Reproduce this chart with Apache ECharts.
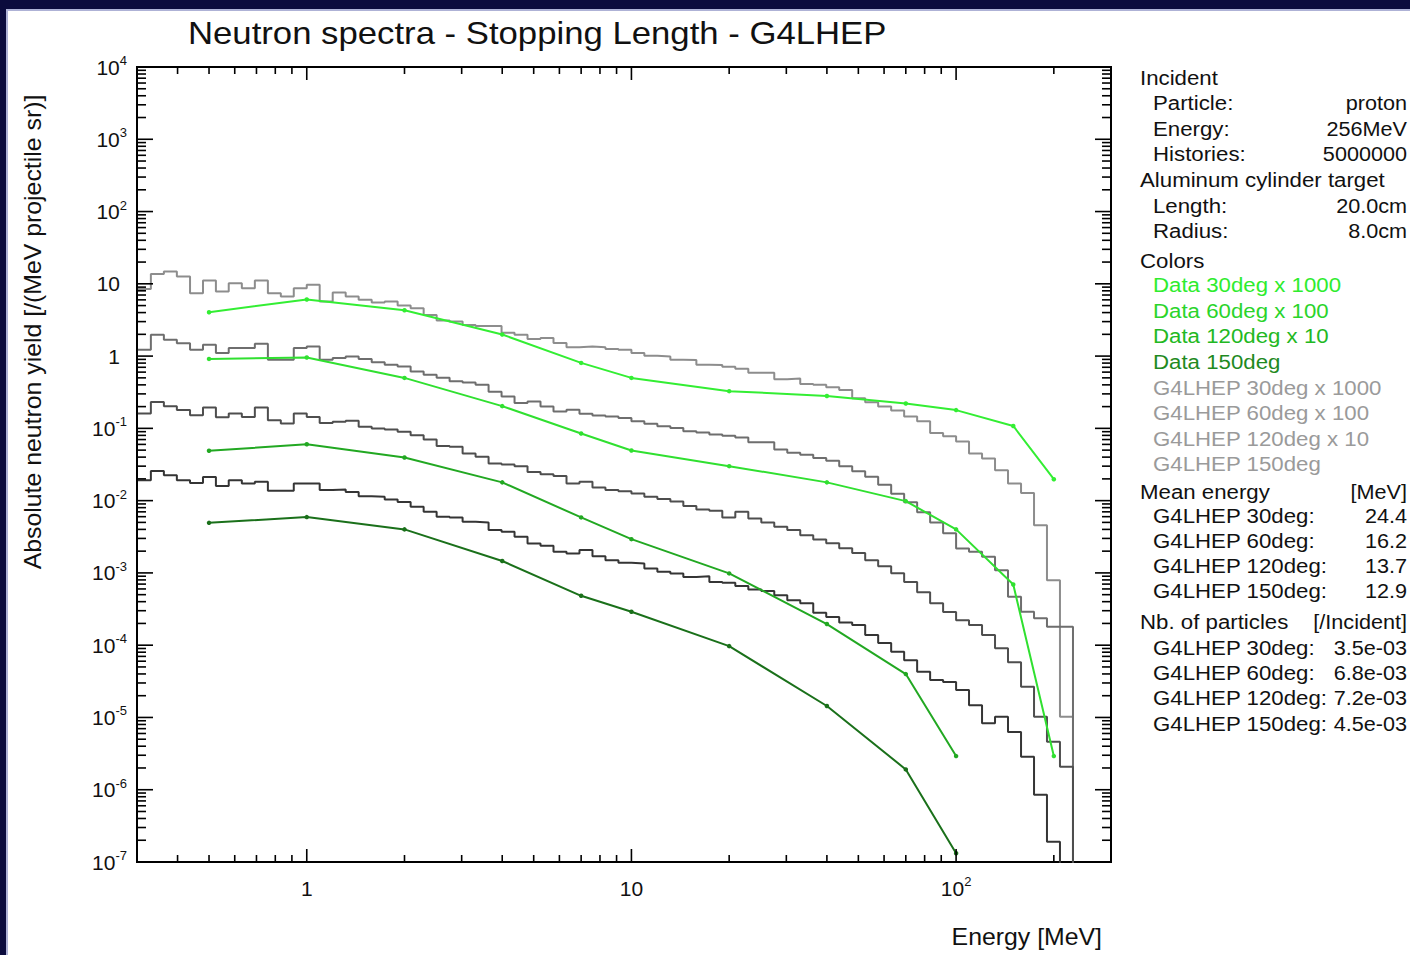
<!DOCTYPE html>
<html>
<head>
<meta charset="utf-8">
<script src="https://cdn.jsdelivr.net/npm/echarts@6/dist/echarts.min.js"></script>
<style>
html,body{margin:0;padding:0;width:1410px;height:955px;overflow:hidden;background:#0b0b3d;}
#panel{position:absolute;left:6px;top:9px;width:1420px;height:960px;background:#fff;border-left:2px solid #aeb2d6;border-top:2px solid #aeb2d6;}
#chart{position:absolute;left:0;top:0;width:1410px;height:955px;}
</style>
</head>
<body>
<div id="panel"></div>
<div id="chart"></div>
<script>
// ---------------- data ----------------
const TITLE = 'Neutron spectra - Stopping Length - G4LHEP';
const X_NAME = 'Energy [MeV]';
const Y_NAME = 'Absolute neutron yield [/(MeV projectile sr)]';

const X_MIN = 0.3, X_MAX = 300;
const Y_MIN = 1e-7, Y_MAX = 1e4;
const X_TICKS = [1, 10, 100];
const Y_TICKS = [1e-7, 1e-6, 1e-5, 1e-4, 1e-3, 1e-2, 1e-1, 1, 10, 1e2, 1e3, 1e4];

// histogram bin edges [MeV] (25 bins per decade)
const ENERGY_EDGES = [0.302, 0.331, 0.363, 0.398, 0.437, 0.479, 0.525, 0.575, 0.631, 0.692, 0.759, 0.832, 0.912,
  1.0, 1.096, 1.202, 1.318, 1.445, 1.585, 1.738, 1.905, 2.089, 2.291, 2.512, 2.754, 3.020, 3.311, 3.631, 3.981,
  4.365, 4.786, 5.248, 5.754, 6.310, 6.918, 7.586, 8.318, 9.120, 10.0, 10.96, 12.02, 13.18, 14.45, 15.85, 17.38,
  19.05, 20.89, 22.91, 25.12, 27.54, 30.20, 33.11, 36.31, 39.81, 43.65, 47.86, 52.48, 57.54, 63.10, 69.18, 75.86,
  83.18, 91.20, 100, 109.6, 120.2, 131.8, 144.5, 158.5, 173.8, 190.5, 208.9, 229.1];

// G4LHEP histograms (bin contents)
const G4_30 = [8.5, 13.7, 14.8, 12.6, 7.4, 11.1, 7.8, 10.2, 8.7, 11.1, 7.4, 6.7, 8.7, 9.7, 5.7, 7.6, 6.7, 6.0, 5.5,
  5.7, 5.0, 4.6, 3.7, 3.1, 3.0, 2.7, 2.6, 2.6, 2.1, 1.97, 1.73, 1.78, 1.52, 1.33, 1.36, 1.33, 1.25, 1.22, 1.10, 1.01,
  0.99, 0.89, 0.88, 0.76, 0.75, 0.71, 0.67, 0.59, 0.59, 0.48, 0.49, 0.41, 0.40, 0.37, 0.34, 0.26, 0.23, 0.20, 0.177,
  0.146, 0.125, 0.086, 0.078, 0.066, 0.045, 0.0384, 0.0264, 0.0173, 0.0128, 0.00458, 0.00079, 0.0000102];
const G4_60 = [1.22, 1.97, 1.68, 1.51, 1.22, 1.43, 1.10, 1.29, 1.29, 1.48, 0.89, 0.89, 1.29, 1.36, 0.89, 0.94, 0.99,
  0.91, 0.82, 0.76, 0.72, 0.61, 0.55, 0.50, 0.45, 0.43, 0.40, 0.32, 0.276, 0.224, 0.235, 0.20, 0.171, 0.181, 0.159,
  0.151, 0.146, 0.139, 0.125, 0.116, 0.107, 0.101, 0.091, 0.088, 0.082, 0.079, 0.075, 0.064, 0.064, 0.051, 0.046,
  0.043, 0.039, 0.0357, 0.030, 0.0256, 0.0214, 0.0166, 0.0125, 0.0095, 0.0069, 0.0050, 0.00355, 0.00218, 0.00196,
  0.00167, 0.00109, 0.000467, 0.00029, 0.000235, 0.00018, 0.00018];
const G4_120 = [0.161, 0.232, 0.203, 0.179, 0.152, 0.195, 0.142, 0.161, 0.144, 0.195, 0.130, 0.117, 0.161, 0.144,
  0.119, 0.123, 0.127, 0.105, 0.0998, 0.0966, 0.0895, 0.0805, 0.0703, 0.0568, 0.0555, 0.045, 0.0404, 0.0327, 0.0317,
  0.030, 0.025, 0.0232, 0.022, 0.0173, 0.0182, 0.0152, 0.014, 0.0135, 0.0126, 0.0113, 0.0105, 0.00975, 0.0084,
  0.00755, 0.00723, 0.00586, 0.0070, 0.00568, 0.00499, 0.00435, 0.00391, 0.00333, 0.0029, 0.00258, 0.0022, 0.00188,
  0.0015, 0.00124, 0.00099, 0.00075, 0.00054, 0.00038, 0.000287, 0.000222, 0.00019, 0.000138, 0.000091, 0.000058,
  0.0000266, 0.0000102, 0.0000046, 0.00000208];
const G4_150 = [0.0192, 0.0258, 0.0225, 0.0192, 0.0176, 0.0213, 0.0159, 0.0192, 0.0173, 0.0182, 0.0137, 0.0137,
  0.0173, 0.0173, 0.014, 0.0143, 0.0132, 0.0115, 0.0113, 0.0104, 0.0096, 0.0082, 0.007, 0.006, 0.00586, 0.0051,
  0.0050, 0.00391, 0.0037, 0.00316, 0.00256, 0.00237, 0.00196, 0.00186, 0.00207, 0.0017, 0.0015, 0.00138, 0.00135,
  0.00115, 0.00104, 0.00098, 0.00088, 0.00090, 0.00075, 0.00073, 0.00066, 0.00059, 0.00056, 0.00049, 0.00042,
  0.00038, 0.00028, 0.000245, 0.000206, 0.00019, 0.000138, 0.000107, 0.000081, 0.000062, 0.000043, 0.000033,
  0.000031, 0.0000239, 0.0000148, 0.0000083, 0.0000102, 0.0000063, 0.00000286, 0.00000085, 0.000000191];

// measured data points
const DATA_E = [0.5, 1, 2, 4, 7, 10, 20, 40, 70, 100, 150, 200];
const DATA_30 = [4.05, 6.07, 4.31, 1.99, 0.805, 0.499, 0.327, 0.281, 0.221, 0.179, 0.108, 0.0198];
const DATA_60 = [0.914, 0.957, 0.499, 0.203, 0.085, 0.0494, 0.030, 0.0179, 0.00984, 0.0040, 0.00069, 0.00000292];
const DATA_120 = [0.0489, 0.0604, 0.0395, 0.0179, 0.00586, 0.00293, 0.000984, 0.000196, 0.0000398, 0.00000292];
const DATA_150 = [0.00493, 0.00592, 0.0040, 0.00146, 0.000482, 0.00029, 0.000097, 0.0000144, 0.00000191, 0.000000132];

// info panel texts
const INFO_LABELS = ['Incident', 'Particle:', 'Energy:', 'Histories:', 'Aluminum cylinder target', 'Length:', 'Radius:',
  'Colors', 'Data 30deg x 1000', 'Data 60deg x 100', 'Data 120deg x 10', 'Data 150deg',
  'G4LHEP 30deg x 1000', 'G4LHEP 60deg x 100', 'G4LHEP 120deg x 10', 'G4LHEP 150deg',
  'Mean energy', 'G4LHEP 30deg:', 'G4LHEP 60deg:', 'G4LHEP 120deg:', 'G4LHEP 150deg:',
  'Nb. of particles', 'G4LHEP 30deg:', 'G4LHEP 60deg:', 'G4LHEP 120deg:', 'G4LHEP 150deg:'];
const INFO_VALUES = ['', 'proton', '256MeV', '5000000', '', '20.0cm', '8.0cm',
  '', '', '', '', '', '', '', '', '',
  '[MeV]', '24.4', '16.2', '13.7', '12.9',
  '[/Incident]', '3.5e-03', '6.8e-03', '7.2e-03', '4.5e-03'];

// ---------------- styles / layout ----------------
const FONT = '"Liberation Sans", Arial, Helvetica, sans-serif';
const GRAYS = ['#8d8d8d', '#6e6e6e', '#4e4e4e', '#353535'];
const GREENS = ['#33ee33', '#30e030', '#22a822', '#1a701a'];
const LEGEND_GREENS = ['#2eec2e', '#2ad42a', '#22b822', '#1f8a1f'];
const INFO_Y = [78, 103, 129, 154, 180, 206, 231, 261, 285, 311, 336, 362, 388, 413, 439, 464,
  492, 516, 541, 566, 591, 622, 648, 673, 698, 724];
const INFO_HEAD = {0: 1, 4: 1, 7: 1, 16: 1, 21: 1};
const INFO_RIGHT = 1407;

function histData(vals) {
  const pts = [];
  for (let i = 0; i < vals.length; i++) pts.push([ENERGY_EDGES[i], vals[i]]);
  const end = ENERGY_EDGES[vals.length];
  pts.push([end, vals[vals.length - 1]]);
  pts.push([end, 1e-12]);
  return pts;
}
function pointData(vals) {
  return vals.map((v, i) => [DATA_E[i], v]);
}
function powLabelX(v) {
  const e = Math.round(Math.log10(v));
  if (e === 0) return '{b|1}';
  if (e === 1) return '{b|10}';
  return '{b|10}{e|' + e + '}';
}
function powLabelY(v) {
  const e = Math.round(Math.log10(v));
  if (e === 0) return '{p|1}';
  if (e === 1) return '{p|10}';
  return '{b|10}{e|' + e + '}';
}

// minor tick positions (axis decorations)
const X_MINOR = [], Y_MINOR = [];
[0.1, 1, 10, 100].forEach(d => { for (let m = 2; m <= 9; m++) { const v = m * d; if (v > X_MIN * 1.001 && v < X_MAX * 0.999) X_MINOR.push(v); } });
for (let p = -7; p < 4; p++) { for (let m = 2; m <= 9; m++) Y_MINOR.push(m * Math.pow(10, p)); }

function renderTicks(params, api) {
  const children = [];
  const seg = (x1, y1, x2, y2) => children.push({type: 'line', shape: {x1, y1, x2, y2}, style: {stroke: '#000', lineWidth: 1.6}});
  const xt = (v, len) => {
    const b = api.coord([v, Y_MIN]); const t = api.coord([v, Y_MAX]);
    seg(b[0], b[1], b[0], b[1] - len); seg(t[0], t[1], t[0], t[1] + len);
  };
  const yt = (v, len) => {
    const l = api.coord([X_MIN, v]); const r = api.coord([X_MAX, v]);
    seg(l[0], l[1], l[0] + len, l[1]); seg(r[0], r[1], r[0] - len, r[1]);
  };
  X_TICKS.forEach(v => xt(v, 13));
  X_MINOR.forEach(v => xt(v, 7));
  Y_TICKS.forEach(v => yt(v, 16));
  Y_MINOR.forEach(v => yt(v, 9));
  return {type: 'group', children};
}

const series = [];
[G4_30, G4_60, G4_120, G4_150].forEach((h, i) => {
  series.push({type: 'line', data: histData(h), step: 'end', symbol: 'none', showSymbol: false, silent: true,
    lineStyle: {color: GRAYS[i], width: 2}, itemStyle: {color: GRAYS[i]}, z: 2});
});
[DATA_30, DATA_60, DATA_120, DATA_150].forEach((d, i) => {
  series.push({type: 'line', data: pointData(d), symbol: 'circle', symbolSize: 4.5, showSymbol: true, showAllSymbol: true,
    silent: true, lineStyle: {color: GREENS[i], width: 2}, itemStyle: {color: GREENS[i]}, z: 3});
});
series.push({type: 'custom', data: [[1, 1]], renderItem: renderTicks, clip: false, silent: true, z: 10});

const graphics = [];
graphics.push({type: 'text', x: 188, y: 33, scaleX: 1.085, silent: true,
  style: {text: TITLE, fontSize: 32, fontFamily: FONT, fill: '#111', align: 'left', verticalAlign: 'middle'}});
graphics.push({type: 'text', x: 33, y: 332, rotation: Math.PI / 2, scaleX: 1.08, silent: true,
  style: {text: Y_NAME, fontSize: 23, fontFamily: FONT, fill: '#111', align: 'center', verticalAlign: 'middle'}});
graphics.push({type: 'text', x: 1102, y: 937, scaleX: 1.08, silent: true,
  style: {text: X_NAME, fontSize: 23, fontFamily: FONT, fill: '#111', align: 'right', verticalAlign: 'middle'}});
INFO_LABELS.forEach((t, i) => {
  let color = '#111';
  if (i >= 8 && i <= 11) color = LEGEND_GREENS[i - 8];
  if (i >= 12 && i <= 15) color = '#9a9a9a';
  const x = INFO_HEAD[i] ? 1140 : 1153;
  graphics.push({type: 'text', x: x, y: INFO_Y[i], scaleX: 1.06, silent: true,
    style: {text: t, fontSize: 21, fontFamily: FONT, fill: color, align: 'left', verticalAlign: 'middle'}});
  if (INFO_VALUES[i]) {
    graphics.push({type: 'text', x: INFO_RIGHT, y: INFO_Y[i], scaleX: 1.03, silent: true,
      style: {text: INFO_VALUES[i], fontSize: 21, fontFamily: FONT, fill: '#111', align: 'right', verticalAlign: 'middle'}});
  }
});

const richBase = {
  b: {fontSize: 21, fontFamily: FONT, color: '#111', lineHeight: 26},
  e: {fontSize: 13, fontFamily: FONT, color: '#111', lineHeight: 14, verticalAlign: 'top'},
  p: {fontSize: 21, fontFamily: FONT, color: '#111', lineHeight: 26, padding: [0, 7, 0, 0]}
};

const chart = echarts.init(document.getElementById('chart'), null, {renderer: 'svg', width: 1410, height: 955});
chart.setOption({
  animation: false,
  backgroundColor: 'transparent',
  grid: {left: 137, top: 67, width: 974, height: 795, show: true, borderColor: '#000', borderWidth: 2,
    backgroundColor: 'transparent', containLabel: false},
  xAxis: {type: 'log', logBase: 10, min: X_MIN, max: X_MAX,
    axisLine: {show: false}, axisTick: {show: false}, splitLine: {show: false}, minorTick: {show: false},
    axisLabel: {customValues: X_TICKS, formatter: powLabelX, margin: 13, showMinLabel: true, showMaxLabel: true,
      fontFamily: FONT, color: '#111', rich: richBase}},
  yAxis: {type: 'log', logBase: 10, min: Y_MIN, max: Y_MAX,
    axisLine: {show: false}, axisTick: {show: false}, splitLine: {show: false}, minorTick: {show: false},
    axisLabel: {customValues: Y_TICKS, formatter: powLabelY, margin: 10, showMinLabel: true, showMaxLabel: true,
      fontFamily: FONT, color: '#111', rich: richBase}},
  graphic: {elements: graphics},
  series: series
});
</script>
</body>
</html>
